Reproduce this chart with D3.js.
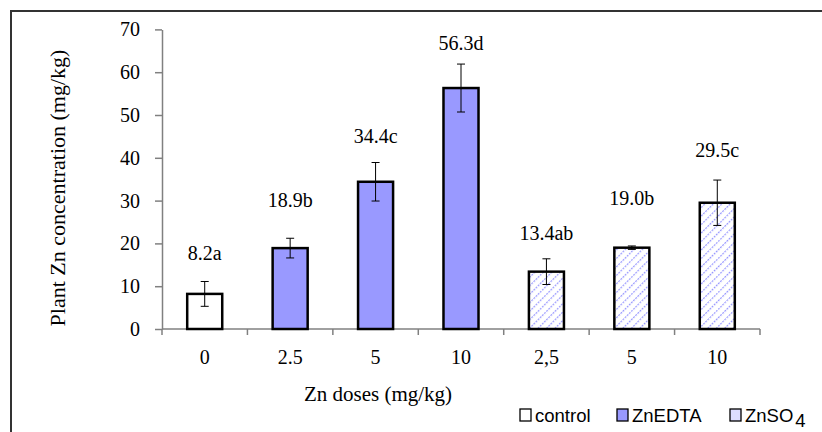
<!DOCTYPE html>
<html>
<head>
<meta charset="utf-8">
<script src="https://cdn.jsdelivr.net/npm/d3@7"></script>
<style>
  body { margin: 0; background: #fff; }
  svg { display: block; }
</style>
</head>
<body>
<div id="chart"></div>
<script>
// data
const doses = ["0", "2.5", "5", "10", "2,5", "5", "10"];
const groups = ["control", "ZnEDTA", "ZnEDTA", "ZnEDTA", "ZnSO4", "ZnSO4", "ZnSO4"];
const means = [8.2, 18.9, 34.4, 56.3, 13.4, 19.0, 29.5];
const errors = [2.9, 2.3, 4.5, 5.6, 3.0, 0.4, 5.3];
const letters = ["8.2a", "18.9b", "34.4c", "56.3d", "13.4ab", "19.0b", "29.5c"];
const labelLevel = [17.8, 30.1, 45.1, 66.8, 22.4, 30.6, 41.8];
const yTicks = [0, 10, 20, 30, 40, 50, 60, 70];
const legendItems = ["control", "ZnEDTA", "ZnSO4"];

const width = 822,
    height = 432,
    plotLeft = 162,
    plotRight = 760,
    plotTop = 29.4,
    plotBottom = 329;

const serif = "'Liberation Serif'";
const sans = "'Liberation Sans'";

const svg = d3.select("#chart").append("svg")
    .attr("width", width)
    .attr("height", height);

// hatch pattern for ZnSO4
const defs = svg.append("defs");
const hatch = defs.append("pattern")
    .attr("id", "hatch")
    .attr("patternUnits", "userSpaceOnUse")
    .attr("width", 6)
    .attr("height", 6)
    .attr("patternTransform", "rotate(45)");
hatch.append("rect").attr("width", 6).attr("height", 6).attr("fill", "#fff");
hatch.append("line")
    .attr("x1", 0).attr("y1", 0).attr("x2", 0).attr("y2", 6)
    .attr("stroke", "#9999ff")
    .attr("stroke-width", 2.4)
    .attr("stroke-dasharray", "2 1");

const fills = {control: "#ffffff", ZnEDTA: "#9999ff", ZnSO4: "url(#hatch)"};
const swatch = {control: "#ffffff", ZnEDTA: "#9999ff", ZnSO4: "#ddddff"};

// outer frame (only top and left are inside the picture)
svg.append("path")
    .attr("d", `M11,${height} L11,11 L${width},11`)
    .attr("fill", "none")
    .attr("stroke", "#333")
    .attr("stroke-width", 2);

// scales
const x = d3.scaleBand()
    .domain(d3.range(doses.length))
    .range([plotLeft, plotRight])
    .paddingInner(0.59)
    .paddingOuter(0.295);

const xEdges = d3.scaleLinear()
    .domain([0, doses.length])
    .range([plotLeft, plotRight]);

const y = d3.scaleLinear()
    .domain([0, 70])
    .range([plotBottom, plotTop]);

// y axis
const yAxis = svg.append("g")
    .attr("transform", `translate(${plotLeft},0)`)
    .call(d3.axisLeft(y).tickValues(yTicks).tickSize(7).tickSizeOuter(0).tickPadding(15));
yAxis.attr("font-family", null).attr("font-size", null);
yAxis.select(".domain").attr("stroke", "#808080").attr("stroke-width", 1.5);
yAxis.selectAll(".tick line").attr("stroke", "#808080").attr("stroke-width", 1.5);
yAxis.selectAll(".tick text")
    .style("font-family", serif)
    .style("font-size", "20px")
    .attr("fill", "#000");

// x axis line + ticks at band edges
const xAxis = svg.append("g")
    .attr("transform", `translate(0,${plotBottom})`);
xAxis.append("line")
    .attr("x1", plotLeft).attr("x2", plotRight)
    .attr("stroke", "#808080").attr("stroke-width", 1.5);
xAxis.selectAll(".edge")
    .data(d3.range(doses.length + 1))
    .enter()
    .append("line")
        .attr("class", "edge")
        .attr("x1", d => xEdges(d)).attr("x2", d => xEdges(d))
        .attr("y1", 0).attr("y2", 6)
        .attr("stroke", "#808080").attr("stroke-width", 1.5);

const xLabels = svg.append("g")
    .attr("transform", `translate(0,${plotBottom})`)
    .call(d3.axisBottom(x).tickSize(0).tickPadding(21).tickFormat(i => doses[i]));
xLabels.attr("font-family", null).attr("font-size", null);
xLabels.select(".domain").remove();
xLabels.selectAll(".tick text")
    .style("font-family", serif)
    .style("font-size", "20px")
    .attr("fill", "#000");

// bars
svg.selectAll(".bar")
    .data(means)
    .enter()
    .append("rect")
        .attr("class", "bar")
        .attr("x", (d, i) => x(i))
        .attr("y", d => y(d))
        .attr("width", x.bandwidth())
        .attr("height", d => y(0) - y(d))
        .attr("fill", (d, i) => fills[groups[i]])
        .attr("stroke", "#000")
        .attr("stroke-width", 2.5);

// error bars
const err = svg.selectAll(".err")
    .data(means)
    .enter()
    .append("g")
        .attr("class", "err")
        .attr("transform", (d, i) => `translate(${x(i) + x.bandwidth() / 2},0)`);
err.append("line")
    .attr("y1", (d, i) => y(d + errors[i]))
    .attr("y2", (d, i) => y(d - errors[i]))
    .attr("stroke", "#000");
err.selectAll(".cap")
    .data((d, i) => [d + errors[i], d - errors[i]])
    .enter()
    .append("line")
        .attr("class", "cap")
        .attr("x1", -4).attr("x2", 4)
        .attr("y1", v => y(v)).attr("y2", v => y(v))
        .attr("stroke", "#000");

// mean letters
svg.selectAll(".lbl")
    .data(letters)
    .enter()
    .append("text")
        .attr("class", "lbl")
        .attr("x", (d, i) => x(i) + x.bandwidth() / 2)
        .attr("y", (d, i) => y(labelLevel[i]))
        .attr("dy", "0.35em")
        .attr("text-anchor", "middle")
        .style("font-family", serif)
        .style("font-size", "20px")
        .text(d => d);

// axis titles
svg.append("text")
    .attr("transform", "translate(57,188) rotate(-90)")
    .attr("text-anchor", "middle")
    .attr("dy", "0.35em")
    .style("font-family", serif)
    .style("font-size", "22px")
    .text("Plant Zn concentration (mg/kg)");

svg.append("text")
    .attr("x", 378)
    .attr("y", 394)
    .attr("dy", "0.35em")
    .attr("text-anchor", "middle")
    .style("font-family", serif)
    .style("font-size", "21px")
    .text("Zn doses (mg/kg)");

// legend
const legendX = [520, 617, 730];
const legend = svg.selectAll(".legend")
    .data(legendItems)
    .enter()
    .append("g")
        .attr("class", "legend")
        .attr("transform", (d, i) => `translate(${legendX[i]},415)`);
legend.append("rect")
    .attr("x", 0).attr("y", -6)
    .attr("width", 11).attr("height", 12)
    .attr("fill", d => swatch[d])
    .attr("stroke", "#000")
    .attr("stroke-width", 1.3);
const legendText = legend.append("text")
    .attr("x", 15)
    .attr("dy", "0.36em")
    .style("font-family", sans)
    .style("font-size", "18.5px");
legendText.filter(d => d !== "ZnSO4").text(d => d);
const so4 = legendText.filter(d => d === "ZnSO4");
so4.append("tspan").text("ZnSO");
so4.append("tspan").attr("dy", 5).attr("dx", 2).text("4");
</script>
</body>
</html>
